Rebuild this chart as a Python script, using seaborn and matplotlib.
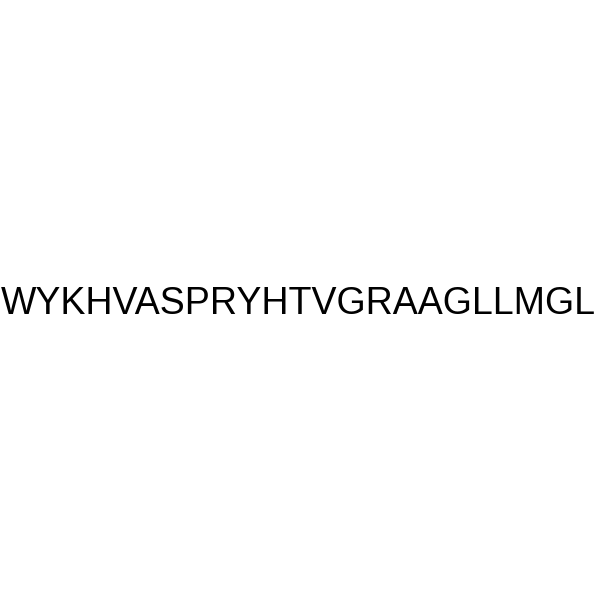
import matplotlib
matplotlib.use("Agg")
import matplotlib.pyplot as plt
import seaborn as sns

# Peptide sequence shown in the picture
sequence = "WYKHVASPRYHTVGRAAGLLMGL"

sns.set_theme(style="white")
plt.rcParams['font.family'] = ['Liberation Sans', 'DejaVu Sans']

fig = plt.figure(figsize=(6, 6), dpi=100)
ax = fig.add_axes([0, 0, 1, 1])
ax.set_xlim(0, 1)
ax.set_ylim(0, 1)
ax.axis('off')

# Centered sequence label
ax.text(0.497, 1 - 304 / 600, sequence, ha='center', va='center',
        fontsize=27.0, color='black')

fig.savefig('out.png', dpi=100, facecolor='white')
